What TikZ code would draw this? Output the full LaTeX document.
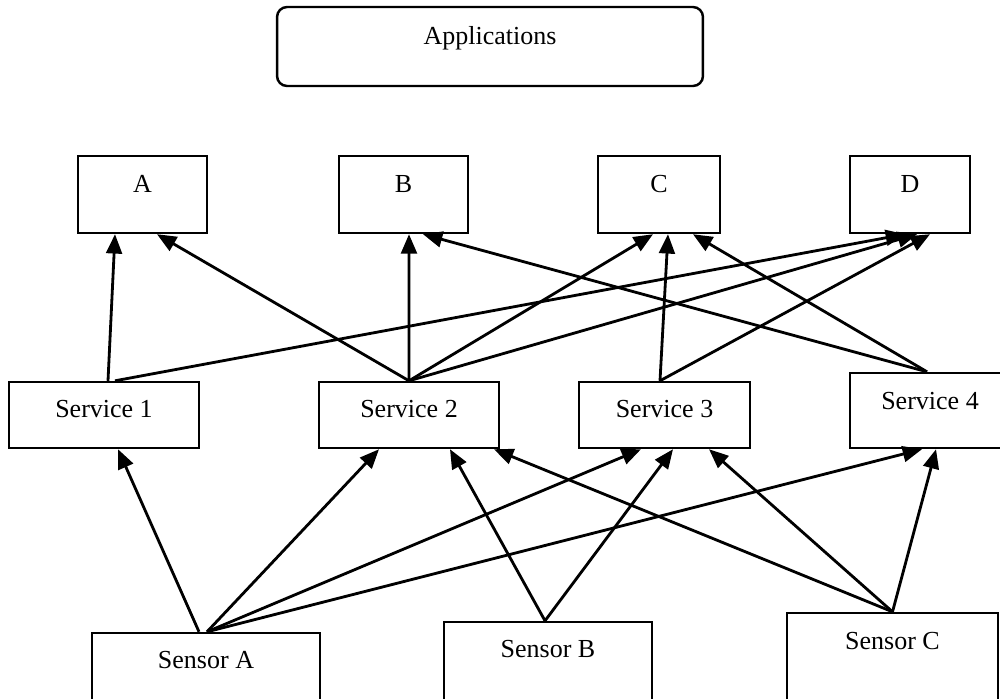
\documentclass[tikz,border=0pt]{standalone}
\usepackage{fontspec}
\setmainfont{Liberation Serif}
\usepackage{tikz}
\usetikzlibrary{arrows.meta}
\tikzset{%
  layerbox/.style={rectangle,draw=black,line width=1.4pt,inner sep=0pt,font=\fontsize{14.8}{18}\selectfont}
}
\tikzset{%
  appbox/.style={layerbox,rounded corners=0.2cm}
}
\tikzset{%
  boxsize/.style n args={3}{minimum width=#1cm,text height=#2cm,text depth=#3cm}
}
\tikzset{%
  link/.style={line width=1.6pt,-{Triangle[length=11pt,width=9pt]}}
}

\begin{document}
\begin{tikzpicture}[x=0.02cm,y=-0.02cm]
            \useasboundingbox (0,0) rectangle (1000,698);

            \node[appbox,boxsize={8.52}{0.74}{0.84},anchor=base](apps) at (490,44){Applications};

            \node[layerbox,boxsize={2.58}{0.72}{0.82},anchor=base](appA) at (142.5,192){A};
            \node[layerbox,boxsize={2.58}{0.72}{0.82},anchor=base](appB) at (403.5,192){B};
            \node[layerbox,boxsize={2.44}{0.72}{0.82},anchor=base](appC) at (659,192){C};
            \node[layerbox,boxsize={2.40}{0.72}{0.82},anchor=base](appD) at (910,192){D};

            \node[layerbox,boxsize={3.80}{0.70}{0.62},anchor=base](svc1) at (104,417){Service 1};
            \node[layerbox,boxsize={3.60}{0.70}{0.62},anchor=base](svc2) at (409,417){Service 2};
            \node[layerbox,boxsize={3.42}{0.70}{0.62},anchor=base](svc3) at (664.5,417){Service 3};
            \node[layerbox,boxsize={3.20}{0.72}{0.78},anchor=base](svc4) at (930,409){Service 4};

            \node[layerbox,boxsize={4.56}{0.70}{1.24},anchor=base](sensA) at (206,668){Sensor A};
            \node[layerbox,boxsize={4.16}{0.70}{1.46},anchor=base](sensB) at (548,657){Sensor B};
            \node[layerbox,boxsize={4.22}{0.72}{1.62},anchor=base](sensC) at (892.5,649){Sensor C};

            % sensors up to services
            \draw[link] ([xshift=-0.14cm]sensA.north) -- ([xshift=0.28cm]svc1.south);
            \draw[link] ([xshift=0.02cm]sensA.north) -- ([xshift=-0.60cm]svc2.south);
            \draw[link] ([xshift=0.02cm]sensA.north) -- ([xshift=-0.47cm]svc3.south);
            \draw[link] ([xshift=0.02cm]sensA.north) -- ([xshift=-0.16cm]svc4.south);
            \draw[link] ([xshift=-0.06cm]sensB.north) -- ([xshift=0.82cm]svc2.south);
            \draw[link] ([xshift=-0.06cm]sensB.north) -- ([xshift=0.17cm]svc3.south);
            \draw[link] (sensC.north) -- ([xshift=1.70cm]svc2.south);
            \draw[link] (sensC.north) -- ([xshift=0.89cm]svc3.south);
            \draw[link] (sensC.north) -- ([xshift=0.12cm]svc4.south);

            % services up to applications
            \draw[link] ([xshift=0.08cm]svc1.north) -- ([xshift=-0.55cm]appA.south);
            \draw[link] ([xshift=0.22cm]svc1.north) -- ([xshift=-0.10cm]appD.south);
            \draw[link] (svc2.north) -- ([xshift=0.29cm]appA.south);
            \draw[link] (svc2.north) -- ([xshift=0.11cm]appB.south);
            \draw[link] (svc2.north) -- ([xshift=-0.12cm]appC.south);
            \draw[link] (svc2.north) -- ([xshift=0.14cm]appD.south);
            \draw[link] ([xshift=-0.09cm]svc3.north) -- ([xshift=0.18cm]appC.south);
            \draw[link] ([xshift=-0.09cm]svc3.north) -- ([xshift=0.40cm]appD.south);
            \draw[link] ([xshift=-0.06cm]svc4.north) -- ([xshift=0.39cm]appB.south);
            \draw[link] ([xshift=-0.06cm]svc4.north) -- ([xshift=0.68cm]appC.south);
        \end{tikzpicture}
\end{document}
